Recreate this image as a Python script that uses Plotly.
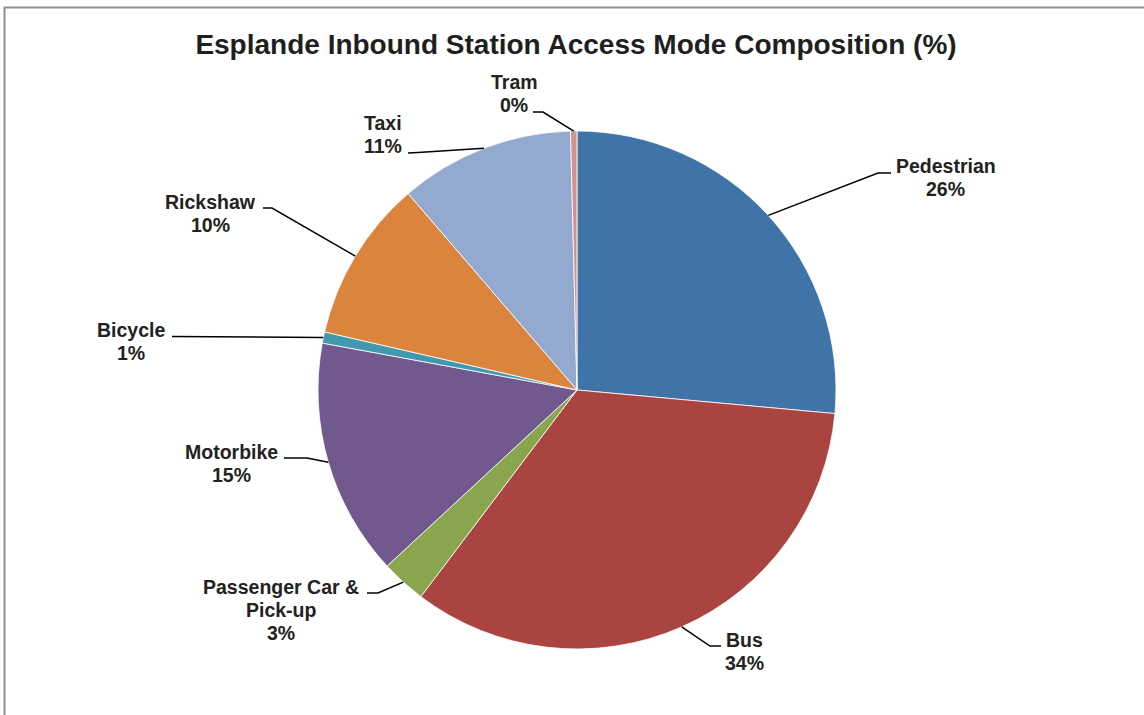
import math
import plotly.graph_objects as go

# ---- data ----
categories = ["Pedestrian", "Bus", "Passenger Car & Pick-up", "Motorbike",
              "Bicycle", "Rickshaw", "Taxi", "Tram"]
shares = [26.45, 33.85, 2.8, 14.8, 0.7, 10.1, 10.9, 0.4]
colors = ["#4073A8", "#AA4441", "#89A54E", "#71588F",
          "#4198AF", "#DB843D", "#93A9CF", "#D19392"]

# ---- layout (pixels) ----
W, H = 1144, 715
CX, CY, R = 577, 390, 259
FS = 19.5
LINE = 23
wrap = {"Passenger Car & Pick-up": ["Passenger Car &", "Pick-up"]}
# label centre x, first-line centre y, elbow point, line end point
label_pos = {
    "Pedestrian": (946, 166, (878, 173), (891, 173)),
    "Bus": (744, 640, (710, 646), (721, 646)),
    "Passenger Car & Pick-up": (281, 587, (378, 593), (367, 593)),
    "Motorbike": (231, 452, (307, 458), (284, 458)),
    "Bicycle": (131, 330, (172, 336.5), (172, 336.5)),
    "Rickshaw": (210.5, 202, (272, 208), (263, 208)),
    "Taxi": (383, 123, (418, 152.5), (408, 153)),
    "Tram": (514, 82, (543, 112), (533, 112)),
}


def px(x):
    return x / W


def py(y):
    return 1 - y / H


fig = go.Figure(go.Pie(
    labels=categories, values=shares, sort=False, direction="clockwise",
    rotation=0, textinfo="none",
    marker=dict(colors=colors, line=dict(color="white", width=0.8)),
    domain=dict(x=[px(CX - R), px(CX + R)], y=[py(CY + R), py(CY - R)]),
    showlegend=False,
))

shapes = [dict(type="rect", xref="paper", yref="paper",
               x0=px(4.5), x1=px(1150), y0=py(7.5), y1=py(720),
               line=dict(color="#8f8f8f", width=2), layer="above")]
annotations = []
total = sum(shares)
cum = 0.0
for name, v in zip(categories, shares):
    theta = math.radians((cum + v / 2) / total * 360)
    cum += v
    ex = CX + R * math.sin(theta)
    ey = CY - R * math.cos(theta)
    lx, ly, (bx, by), (tx, ty) = label_pos[name]
    shapes.append(dict(
        type="path", xref="paper", yref="paper",
        path=f"M {px(ex)},{py(ey)} L {px(bx)},{py(by)} L {px(tx)},{py(ty)}",
        line=dict(color="black", width=1.5)))
    lines = wrap.get(name, [name]) + [f"{round(v)}%"]
    for i, t in enumerate(lines):
        annotations.append(dict(
            text=t, xref="paper", yref="paper", x=px(lx), y=py(ly + i * LINE),
            xanchor="center", yanchor="middle", showarrow=False,
            font=dict(family="Liberation Sans", size=FS, color="#222222",
                      weight="bold")))

fig.update_layout(
    width=W, height=H, margin=dict(l=0, r=0, t=0, b=0),
    paper_bgcolor="white", plot_bgcolor="white",
    title=dict(text="Esplande Inbound Station Access Mode Composition (%)",
               x=px(576), xanchor="center", y=py(44), yanchor="middle",
               font=dict(family="Liberation Sans", size=28, color="#1f1f1f",
                         weight="bold")),
    shapes=shapes, annotations=annotations,
)

fig.write_html("out.html")
